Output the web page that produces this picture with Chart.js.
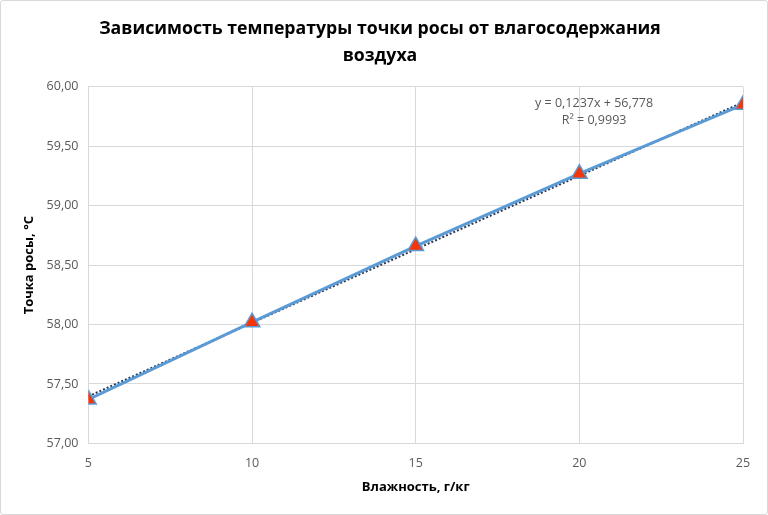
<!DOCTYPE html>
<html><head><meta charset="utf-8">
<script src="https://cdn.jsdelivr.net/npm/chart.js@4/dist/chart.umd.min.js"></script>
<style>
html,body{margin:0;padding:0;background:#fff;}
#wrap{position:absolute;left:0;top:0;width:766px;height:513px;border:1px solid #d9d9d9;border-radius:3px;}
canvas{display:block;}
</style></head><body>
<div id="wrap"><canvas id="c" width="766" height="513"></canvas></div>
<script>
const humidity = [5, 10, 15, 20, 25];
const dewPoint = [57.37, 58.02, 58.66, 59.27, 59.85];
const trendX = [5, 25];
const trendY = [57.3965, 59.8705];
const titleLines = ['Зависимость температуры точки росы от влагосодержания', 'воздуха'];
const equationLines = ['y = 0,1237x + 56,778', 'R² = 0,9993'];
const xTitle = 'Влажность, г/кг';
const yTitle = 'Точка росы, °C';

const FONT = "'Open Sans', 'Liberation Sans', sans-serif";

const eqPlugin = {
  id: 'eq',
  afterDatasetsDraw(chart) {
    const {ctx, scales} = chart;
    const cx = scales.x.getPixelForValue(20.45);
    const y0 = scales.y.getPixelForValue(59.86);
    ctx.save();
    ctx.font = "12.5px " + FONT;
    ctx.fillStyle = '#595959';
    ctx.textAlign = 'center';
    ctx.textBaseline = 'middle';
    ctx.fillText(equationLines[0], cx, y0);
    ctx.fillText(equationLines[1], cx, y0 + 17);
    ctx.restore();
  }
};

new Chart(document.getElementById('c'), {
  type: 'scatter',
  data: {
    datasets: [
      {
        label: 'data',
        data: humidity.map((x, i) => ({x, y: dewPoint[i]})),
        showLine: true,
        borderColor: '#5b9bd5',
        borderWidth: 3,
        pointStyle: 'triangle',
        pointRadius: 9,
        pointBackgroundColor: '#f5360a',
        pointBorderColor: '#5b9bd5',
        pointBorderWidth: 1.5,
        order: 1
      },
      {
        label: 'trend',
        data: trendX.map((x, i) => ({x, y: trendY[i]})),
        showLine: true,
        borderColor: '#2b3a57',
        borderWidth: 2,
        borderDash: [2, 2],
        pointRadius: 0,
        order: 2
      }
    ]
  },
  options: {
    responsive: false,
    animation: false,
    layout: {padding: {left: 16, right: 24, top: 8, bottom: 19}},
    plugins: {
      legend: {display: false},
      tooltip: {enabled: false},
      title: {
        display: true,
        text: titleLines,
        color: '#000',
        font: {family: FONT, size: 17.7, weight: 'bold', lineHeight: 1.55},
        padding: {top: 6, bottom: 17}
      }
    },
    scales: {
      x: {
        type: 'linear',
        min: 5, max: 25,
        ticks: {stepSize: 5, color: '#595959', font: {family: FONT, size: 12.5}, padding: 13},
        grid: {color: '#d9d9d9', drawTicks: false},
        border: {color: '#d9d9d9'},
        title: {display: true, text: xTitle, color: '#000', font: {family: FONT, size: 13, weight: 'bold'}, padding: {top: -5, bottom: 0}}
      },
      y: {
        min: 57, max: 60,
        ticks: {stepSize: 0.5, color: '#595959', font: {family: FONT, size: 12.5}, padding: 10,
          callback: v => v.toFixed(2).replace('.', ',')},
        grid: {color: '#d9d9d9', drawTicks: false},
        border: {display: false},
        title: {display: true, text: yTitle, color: '#000', font: {family: FONT, size: 13, weight: 'bold'}, padding: {bottom: 0}}
      }
    }
  },
  plugins: [eqPlugin]
});
</script>
</body></html>
